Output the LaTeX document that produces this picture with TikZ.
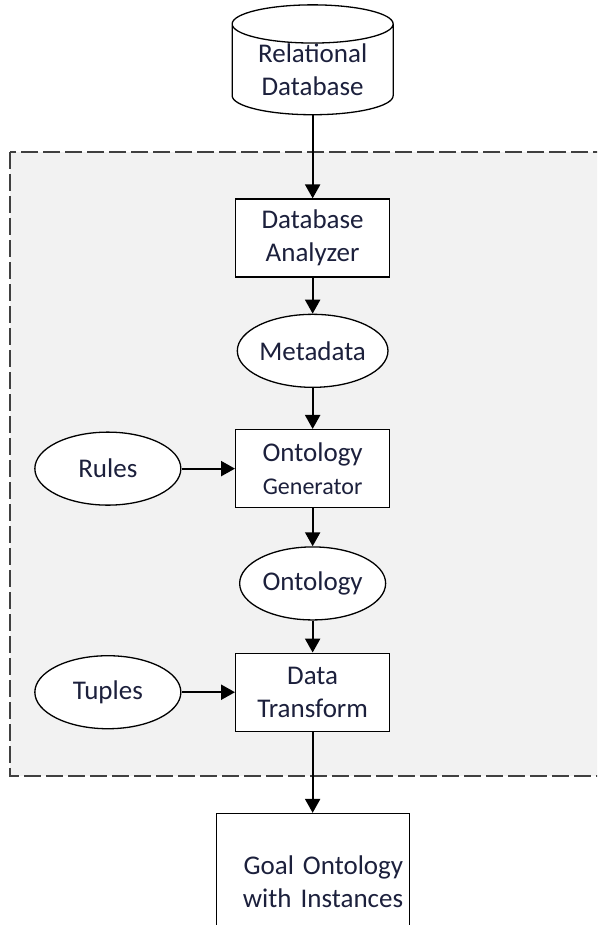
\documentclass[tikz,border=0pt]{standalone}
\usepackage{fontspec}
\setmainfont{Carlito}
\usetikzlibrary{matrix,arrows.meta,shapes.geometric}
\definecolor{inktext}{RGB}{28,32,60}
\tikzset{
  centered/.style = { align=center, anchor=center },
     basic/.style = { draw, line width=1.3pt, fill=white, centered, text=inktext,
                      inner sep=0pt, font=\fontsize{27}{33}\selectfont },
       box/.style = { basic, rectangle, minimum width=154pt, minimum height=78pt },
      blob/.style = { basic, ellipse, minimum width=146pt, minimum height=73pt },
     store/.style = { basic, cylinder, shape border rotate=90, aspect=0.35,
                      minimum width=161pt, minimum height=108pt },
   goalbox/.style = { box, minimum width=193pt, minimum height=136pt,
                      text width=181pt, align=right },
     arrow/.style = { line width=2.2pt, ->, >={Triangle[length=14pt,width=15pt]} },
     frame/.style = { draw=black!75, line width=1.5pt, dash pattern=on 17pt off 5pt, fill=gray!10 }
}

\begin{document}
\begin{tikzpicture}[x=1pt,y=-1pt]
  \useasboundingbox (0,0) rectangle (597,925);
  \clip (0,0) rectangle (597,925);

  % processing area
  \draw [frame] (10,152) rectangle (610,776);

  \matrix (m)
    [
      column sep = 34pt,
      row sep    = 0pt,
      inner sep  = 0pt,
      anchor     = north west,
    ] at (34,4)
    {
        & \node[store] (db) {Relational\\Database}; \\[83pt]
        & \node[box] (da) {Database\\Analyzer}; \\[36pt]
        & \node[blob] (meta) {Metadata}; \\[41pt]
      \node[blob] (rules) {Rules};
        & \node[box] (gen) {Ontology\\{\fontsize{24}{33}\selectfont Generator}}; \\[38pt]
        & \node[blob] (onto) {Ontology}; \\[32pt]
      \node[blob] (tuples) {Tuples};
        & \node[box] (trans) {Data\\Transform}; \\[81pt]
        & \node[goalbox] (goal) {Goal Ontology\\with Instances}; \\
    };

    \foreach \i/\j in {db/da, da/meta, meta/gen, gen/onto, onto/trans, trans/goal} {
      \draw [arrow] (\i) -- (\j);
    }
    \draw [arrow] (rules) -- (gen);
    \draw [arrow] (tuples) -- (trans);
\end{tikzpicture}
\end{document}
